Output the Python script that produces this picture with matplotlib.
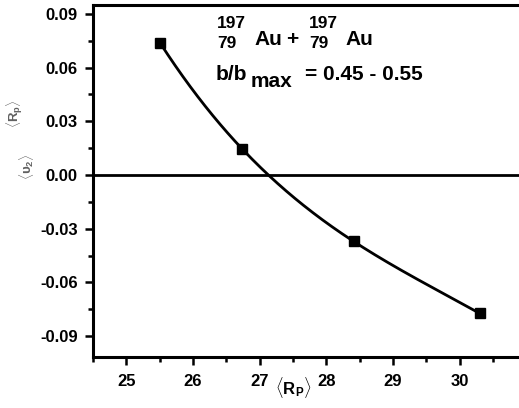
import numpy as np
import matplotlib
matplotlib.use("Agg")
import matplotlib.pyplot as plt
from matplotlib.ticker import MultipleLocator, FormatStrFormatter

rp = [25.51, 26.74, 28.41, 30.30]
v2 = [0.0736, 0.0145, -0.0371, -0.0773]
xticks = [25, 26, 27, 28, 29, 30]
yticks = [-0.09, -0.06, -0.03, 0.00, 0.03, 0.06, 0.09]

plt.rcParams['font.family'] = ['Liberation Sans', 'DejaVu Sans']
plt.rcParams['mathtext.fontset'] = 'custom'
plt.rcParams['mathtext.rm'] = 'Liberation Sans:bold'
plt.rcParams['mathtext.bf'] = 'Liberation Sans:bold'
plt.rcParams['mathtext.it'] = 'Liberation Sans:bold'

W, H = 519, 408
fig = plt.figure(figsize=(W/100, H/100), dpi=100)
ax = fig.add_axes([93/W, 51/H, 433.3/W, 352/H])

coef = np.polyfit(rp, v2, 3)
xs = np.linspace(rp[0], rp[-1], 300)
ax.plot(xs, np.polyval(coef, xs), color='black', lw=2, zorder=3)
ax.plot(rp, v2, 's', color='black', ms=6.5, zorder=4)
ax.axhline(0, color='black', lw=2, zorder=2)

ax.set_xlim(24.5, 31)
ax.set_ylim(-0.1017, 0.095)
ax.set_xticks(xticks)
ax.set_yticks(yticks)
ax.xaxis.set_minor_locator(MultipleLocator(0.5))
ax.yaxis.set_minor_locator(MultipleLocator(0.015))
ax.yaxis.set_major_formatter(FormatStrFormatter('%.2f'))
for s in ax.spines.values():
    s.set_linewidth(2.2)
ax.tick_params(which='major', direction='out', length=6, width=1.8, labelsize=12)
ax.tick_params(axis='x', which='major', pad=6)
ax.tick_params(axis='y', which='major', pad=5)
ax.tick_params(which='minor', direction='out', length=3.5, width=1.8)
for lab in ax.get_xticklabels() + ax.get_yticklabels():
    lab.set_fontweight('bold')

def px(x, y):
    return x / W, 1 - y / H

# y label (grey)
fig.text(*px(15, 114), r'$\langle\mathbf{R}_p\rangle$', rotation=90, color='#606060',
         fontsize=9.5, ha='center', va='center', family=['DejaVu Sans'])
fig.text(*px(27, 167), r'$\langle\upsilon_2\rangle$', rotation=90, color='#606060',
         fontsize=9.5, ha='center', va='center', family=['DejaVu Sans'])
# x label
fig.text(*px(293, 387), r'$\langle\mathbf{R_P}\rangle$', color='black',
         fontsize=12, ha='center', va='center')

bfs = 15
sfs = 12.5
fig.text(*px(217, 28), '197', fontsize=sfs, fontweight='bold', ha='left', va='baseline')
fig.text(*px(217, 48), '79', fontsize=sfs, fontweight='bold', ha='left', va='baseline')
fig.text(*px(254, 45), 'Au', fontsize=bfs, fontweight='bold', ha='left', va='baseline')
fig.text(*px(286, 45), '+', fontsize=bfs, fontweight='bold', ha='left', va='baseline')
fig.text(*px(309, 28), '197', fontsize=sfs, fontweight='bold', ha='left', va='baseline')
fig.text(*px(309, 48), '79', fontsize=sfs, fontweight='bold', ha='left', va='baseline')
fig.text(*px(345, 45), 'Au', fontsize=bfs, fontweight='bold', ha='left', va='baseline')
fig.text(*px(216, 80), 'b/b', fontsize=bfs, fontweight='bold', ha='left', va='baseline')
fig.text(*px(251, 87), 'max', fontsize=bfs, fontweight='bold', ha='left', va='baseline')
fig.text(*px(423, 80), '= 0.45 - 0.55', fontsize=bfs, fontweight='bold', ha='right', va='baseline')

fig.savefig('out.png', dpi=100)
